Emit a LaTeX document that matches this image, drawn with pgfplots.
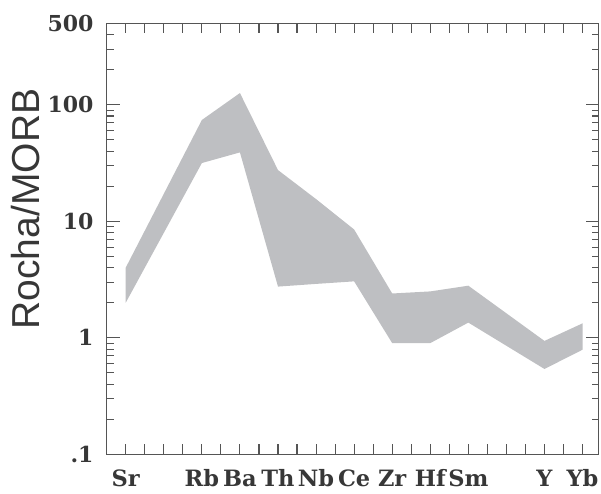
\documentclass[border=0pt]{standalone}
\usepackage{fontspec}
\usepackage{pgfplots}
\pgfplotsset{compat=1.18}
\newfontfamily\tickfont{DejaVu Serif Bold}
\newfontfamily\labelfont{Liberation Sans}
\definecolor{band}{RGB}{190,191,194}
\definecolor{axcol}{RGB}{85,85,85}
\definecolor{txt}{RGB}{55,55,55}
\begin{document}
\begin{tikzpicture}
\useasboundingbox (-106.7pt,-38.7pt) rectangle (494.3pt,454.3pt);
\begin{axis}[
  scale only axis, width=492pt, height=431pt,
  at={(0pt,0pt)}, anchor=south west,
  xmin=0, xmax=25.85, ymode=log, ymin=0.1, ymax=500,
  axis line style={axcol, line width=1.4pt},
  tick align=inside,
  major tick length=10pt, minor tick length=7pt,
  xtick={1,...,25},
  ytick={0.1,1,10,100,500},
  minor ytick={0.2,0.3,0.4,0.5,0.6,0.7,0.8,0.9,2,3,4,5,6,7,8,9,20,30,40,50,60,70,80,90,200,300,400},
  xtick style={axcol, line width=1.1pt},
  ytick style={axcol, line width=1.1pt, /pgfplots/major tick length=13pt},
  xtick pos=both, ytick pos=both,
  xticklabels={Sr,,,,Rb,,Ba,,Th,,Nb,,Ce,,Zr,,Hf,,Sm,,,,Y,,Yb},
  yticklabels={.1,1,10,100,500},
  ticklabel style={text=txt},
  xticklabel style={font=\tickfont\fontsize{22.5}{22.5}\selectfont, text height=17pt, text depth=0pt, inner sep=0pt, yshift=-15pt},
  yticklabel style={font=\tickfont\fontsize{22}{22}\selectfont, inner sep=0pt, xshift=-13pt},
  ylabel={Rocha/MORB},
  ylabel style={font=\labelfont\fontsize{39}{39}\selectfont, text=txt, at={(rel axis cs:-0.165,0.569)}, anchor=center},
]
\addplot[fill=band, draw=none] coordinates {
  (1,4.0) (5,74) (7,126) (9,27.5) (11,15.5) (13,8.5) (15,2.4) (17,2.5) (19,2.8) (23,0.94) (25,1.33)
  (25,0.79) (23,0.54) (19,1.35) (17,0.90) (15,0.90) (13,3.05) (11,2.9) (9,2.75) (7,39) (5,31.6) (1,2.0)
} -- cycle;
\end{axis}
\end{tikzpicture}
\end{document}
